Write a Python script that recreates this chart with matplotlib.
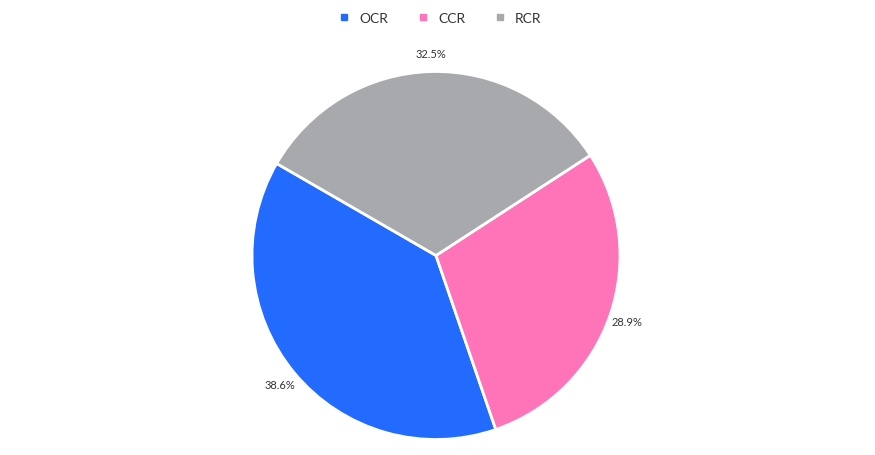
import matplotlib
matplotlib.use("Agg")
import matplotlib.pyplot as plt
from matplotlib.lines import Line2D

plt.rcParams['font.family'] = ['Lato', 'DejaVu Sans']

labels = ['OCR', 'CCR', 'RCR']
values = [38.6, 28.9, 32.5]
colors = ['#236BFE', '#FF74B8', '#A8A9AD']

fig = plt.figure(figsize=(8.75, 4.56), dpi=100)
ax = fig.add_axes([0, 0, 1, 1])

# pie drawn in pixel coordinates so it lands where the reference has it
ax.pie(values, colors=colors, startangle=150, counterclock=True,
       radius=184, center=(436, 199.5),
       autopct='%.1f%%', pctdistance=1.1,
       wedgeprops=dict(edgecolor='white', linewidth=2),
       textprops=dict(fontsize=8, color='#333333'))
ax.set_xlim(0, 875)
ax.set_ylim(0, 456)
ax.set_aspect('equal')
ax.axis('off')

handles = [Line2D([0], [0], marker='s', linestyle='none', markersize=5,
                  markerfacecolor=c, markeredgecolor=c) for c in colors]
fig.legend(handles, labels, loc='center', bbox_to_anchor=(0.502, 1 - 19 / 456),
           ncol=3, frameon=False, fontsize=10, handlelength=1.0,
           handletextpad=0.6, columnspacing=2.0, labelcolor='#333333')

fig.savefig('out.png', dpi=100)
